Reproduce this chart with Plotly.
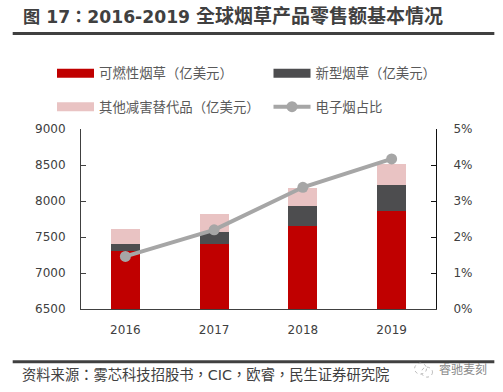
import plotly.graph_objects as go

years = ["2016", "2017", "2018", "2019"]
combustible = [7300, 7405, 7653, 7860]
new_type = [105, 165, 277, 360]
other = [207, 250, 248, 290]
ecig_share = [1.46, 2.2, 3.38, 4.17]

CJK = "Noto Sans CJK SC"
LAT = "DejaVu Sans, " + CJK
TITLEF = "DejaVu Sans, Noto Sans CJK TC"
TXT = "#404040"
RED, DARK, PINK, GREY = "#C00000", "#4D4D4F", "#E9C3C3", "#A6A6A6"
N1, N2, N3, N4 = "可燃性烟草（亿美元）", "新型烟草（亿美元）", "其他减害替代品（亿美元）", "电子烟占比"

fig = go.Figure()
for vals, col in [(combustible, RED), (new_type, DARK), (other, PINK)]:
    fig.add_bar(x=years, y=vals, marker=dict(color=col, line=dict(width=0)), showlegend=False)
fig.add_scatter(x=years, y=ecig_share, yaxis="y2", mode="lines+markers", name=N4,
                line=dict(color=GREY, width=4), marker=dict(color=GREY, size=11),
                legend="legend4")
# wide legend keys
for name, col, lg in [(N1, RED, "legend"), (N2, DARK, "legend2"), (N3, PINK, "legend3")]:
    fig.add_scatter(x=[None], y=[None], mode="lines", name=name, line=dict(color=col, width=9), legend=lg)

leg = dict(orientation="h", xref="container", yref="container", xanchor="left", yanchor="middle",
           font=dict(family=CJK, size=13.4, color="#595959"), bgcolor="rgba(0,0,0,0)",
           itemwidth=37, itemclick=False, itemdoubleclick=False)

W, H = 356, 181
def px(x):
    return (x - 80.5) / W
def py(y):
    return (392 - y - 82.5) / H

title = ('<b><span style="font-size:17.2px">图 17：2016-2019 </span>全球烟草产品零售额基本情况</b>')

fig.update_layout(
    template="none",
    width=503, height=392, autosize=False,
    margin=dict(l=80.5, r=66.5, t=128.5, b=82.5, autoexpand=False),
    paper_bgcolor="white", plot_bgcolor="white",
    barmode="stack", bargap=0.674, showlegend=True,
    legend=dict(leg, x=52 / 503, y=1 - 73.5 / 392),
    legend2=dict(leg, x=268.5 / 503, y=1 - 73.5 / 392),
    legend3=dict(leg, x=52 / 503, y=1 - 107 / 392),
    legend4=dict(leg, x=268.5 / 503, y=1 - 107 / 392),
    xaxis=dict(type="category", showgrid=False, zeroline=False, showline=True, linecolor=TXT, linewidth=1,
               ticks="", ticklabelstandoff=10, tickfont=dict(family=LAT, size=12, color=TXT)),
    yaxis=dict(range=[6500, 9000], dtick=500, showgrid=False, zeroline=False,
               showline=True, linecolor=TXT, linewidth=1, ticks="inside",
               ticklen=5, tickcolor=TXT, tickformat="d", ticklabelstandoff=12,
               tickfont=dict(family=LAT, size=12, color=TXT)),
    yaxis2=dict(overlaying="y", side="right", range=[0, 5], dtick=1, ticksuffix="%",
                showgrid=False, zeroline=False, showline=True, linecolor="#111111", linewidth=1, ticks="inside",
                ticklen=5, tickcolor="#111111", ticklabelstandoff=14,
                tickfont=dict(family=LAT, size=12, color=TXT)),
    annotations=[
        dict(text=title, xref="paper", yref="paper", x=px(20), y=py(15), xanchor="left", yanchor="middle",
             showarrow=False, font=dict(family=TITLEF, size=19, color="#404040")),
        dict(text="资料来源：雾芯科技招股书，CIC，欧睿，民生证券研究院", xref="paper", yref="paper",
             x=px(19.5), y=py(376), xanchor="left", yanchor="middle", showarrow=False,
             font=dict(family=TITLEF, size=14.3, color="#404040")),
        dict(text="睿驰麦刻", xref="paper", yref="paper", x=px(438), y=py(369), xanchor="left", yanchor="middle",
             showarrow=False, font=dict(family=CJK, size=12, color="#8a8a8a")),
    ],
    shapes=[
        dict(type="line", xref="paper", yref="paper", x0=px(12), x1=px(495), y0=py(32.5), y1=py(32.5),
             line=dict(color=TXT, width=3)),
        dict(type="line", xref="paper", yref="paper", x0=px(12), x1=px(495), y0=py(362.5), y1=py(362.5),
             line=dict(color=TXT, width=3)),
        dict(type="circle", xref="paper", yref="paper", x0=px(415), x1=px(427), y0=py(375), y1=py(364),
             line=dict(color="#bbbbbb", width=1, dash="dot")),
        dict(type="circle", xref="paper", yref="paper", x0=px(422), x1=px(433), y0=py(378), y1=py(368),
             line=dict(color="#bbbbbb", width=1, dash="dot")),
    ],
)
fig.write_html("out.html", config=dict(displayModeBar=False),
               post_script="document.body.style.margin='0';")
